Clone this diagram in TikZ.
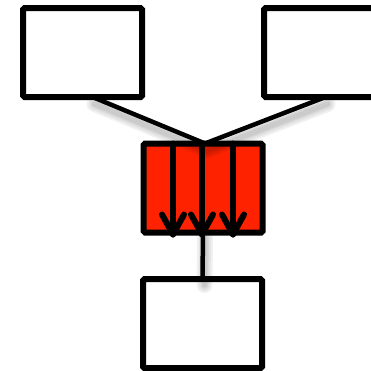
\documentclass[tikz,border=0pt]{standalone}
\usetikzlibrary{calc}
\definecolor{boxred}{RGB}{255,34,0}
\begin{document}
\begin{tikzpicture}[x=1pt,y=-1pt,
  box/.style={draw=black, line width=6pt, rounded corners=1.5pt,
    minimum width=119pt, minimum height=89pt, inner sep=0pt, outer sep=0pt, fill=white},
  link/.style={line width=4.5pt, line cap=round},
  softshade/.style={draw=black, line cap=round, opacity=0.055, line width=#1},
  flow/.style={line width=6pt, line cap=round, line join=round}
]
\useasboundingbox (0,0) rectangle (371,370);

% boxes
\node[box] (tl) at (82.5,52.5) {};
\node[box] (tr) at (323.5,52.5) {};
\node[box, fill=boxred] (mid) at (203,188) {};
\node[box] (bot) at (202.5,323.5) {};

% connection points
\coordinate (tlout) at ($(tl.south)+(10,0)$);
\coordinate (trout) at ($(tr.south)+(2,0)$);
\coordinate (join) at ($(mid.north)+(2,0)$);

% soft shadows under the connectors
\foreach \w in {16,12,8,5} {
  \draw[softshade=\w pt] ($(tlout)+(2,7)$) -- ($(join)+(2,7)$) -- ($(trout)+(2,7)$);
  \draw[softshade=\w pt] ($(mid.south)+(2,6)$) -- ($(bot.north)+(2,6)$);
}

% connectors
\draw[link] (tlout) -- (join) -- (trout);
\draw[link, line cap=butt] (mid.south) -- (bot.north);

% flow arrows inside the red box: shaft plus chevron head
\foreach \dx in {-30,-1,30} {
  \coordinate (tip) at ($(mid.south)+(\dx,2)$);
  \draw[flow] ($(mid.north)+(\dx,0)$) -- (tip);
  \draw[flow] ($(tip)+(-11,-20)$) -- (tip) -- ($(tip)+(11,-20)$);
}
\end{tikzpicture}
\end{document}
